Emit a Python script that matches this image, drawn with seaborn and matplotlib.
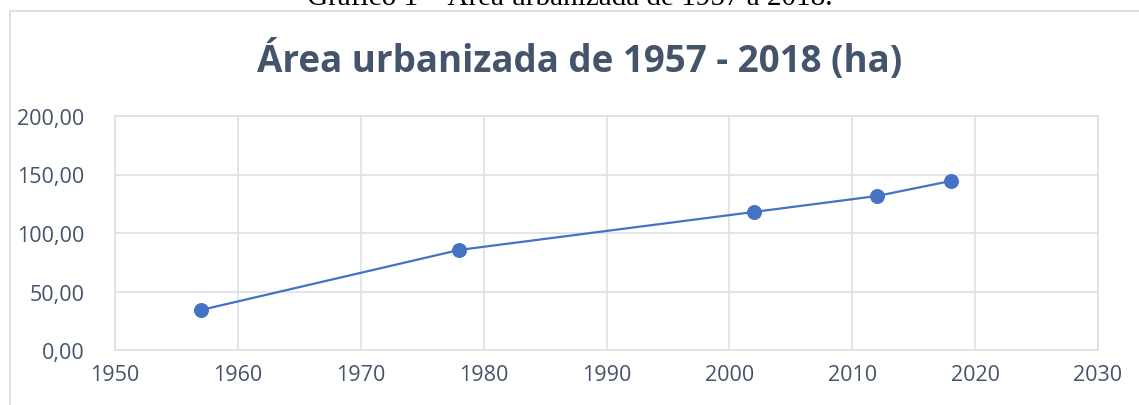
import numpy as np
import pandas as pd
import matplotlib.pyplot as plt
import matplotlib.patches as mpatches
import seaborn as sns
from matplotlib.ticker import FuncFormatter, MultipleLocator

years = [1957, 1978, 2002, 2012, 2018]
area_ha = [34.2, 85.5, 118.0, 131.6, 144.4]

caption = "Gráfico 1 – Área urbanizada de 1957 a 2018."
title = "Área urbanizada de 1957 - 2018 (ha)"

df = pd.DataFrame({"ano": years, "area": area_ha})

sns.set_theme(style="whitegrid")
plt.rcParams["font.family"] = ["Open Sans", "DejaVu Sans"]

fig = plt.figure(figsize=(11.39, 4.06), dpi=100)
fig.patch.set_facecolor("white")

# chart frame (cut off at right/bottom like the source)
frame = mpatches.Rectangle((10 / 1139, -0.05), 1.2, 1 - 12 / 406 + 0.05,
                           transform=fig.transFigure, fill=False,
                           edgecolor="#D9D9D9", linewidth=1.2)
fig.patches.append(frame)

# page caption, clipped by the top edge as in the scanned source
fig.text(0.5, 1.006, caption, ha="center", va="center", fontsize=21,
         family=["Liberation Serif", "DejaVu Serif"], color="black")

ax = fig.add_axes([115 / 1139, 1 - 351 / 406, (1098 - 115) / 1139, (351 - 117) / 406])
sns.lineplot(data=df, x="ano", y="area", ax=ax, color="#4472C4", linewidth=1.6,
             marker="o", markersize=10, markeredgecolor="#4472C4")

ax.set_xlim(1950, 2030)
ax.set_ylim(0, 200)
ax.xaxis.set_major_locator(MultipleLocator(10))
ax.yaxis.set_major_locator(MultipleLocator(50))
ax.yaxis.set_major_formatter(FuncFormatter(lambda v, _: f"{v:.2f}".replace(".", ",")))
ax.set_xlabel("")
ax.set_ylabel("")
ax.grid(True, color="#DDE1E8", linewidth=1.2)
for s in ax.spines.values():
    s.set_color("#DDE1E8")
    s.set_linewidth(1.2)
ax.tick_params(axis="both", labelsize=15.5, colors="#44546A", length=0)
ax.tick_params(axis="x", pad=10)
ax.tick_params(axis="y", pad=22)

fig.text(580 / 1139, 1 - 61 / 406, title, ha="center", va="center",
         fontsize=26.5, fontweight="bold", color="#44546A")

fig.savefig("out.png", dpi=100)
